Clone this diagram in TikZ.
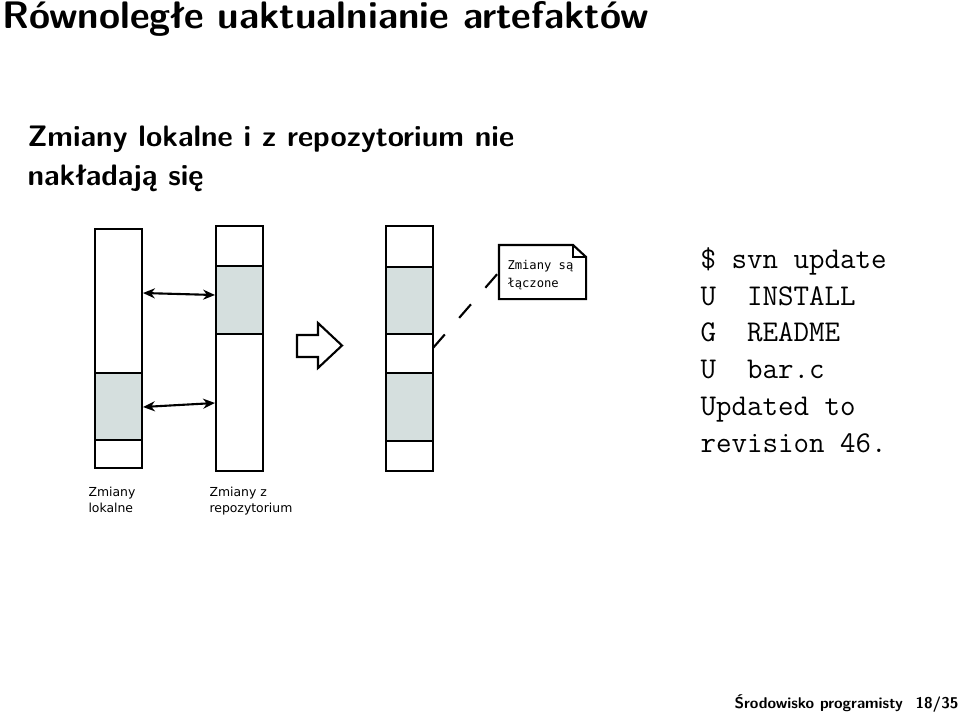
\documentclass[tikz,border=0pt]{standalone}
\usepackage{fontspec}
\usetikzlibrary{arrows.meta, calc}
\newfontfamily\dejavu{DejaVu Sans}
\newfontfamily\dejavumono{DejaVu Sans Mono}
\definecolor{bandgray}{RGB}{213,223,222}
\newcommand{\px}{0.3785pt}

\begin{document}
\begin{tikzpicture}[x=0.3785pt, y=-0.3785pt,
  box/.style = {line width=0.8pt},
  band/.style = {line width=0.8pt, fill=bandgray},
  link/.style = {line width=0.8pt, {Stealth[length=4.5pt,width=3.8pt]}-{Stealth[length=4.5pt,width=3.8pt]}},
  lbl/.style = {anchor=base west, inner sep=0pt, align=left, font=\dejavu\fontsize{4.7}{6}\selectfont},
  head/.style = {anchor=base west, inner sep=0pt, align=left}]
\useasboundingbox (0,0) rectangle (959,713);

% naglowek i podtytul
\node[head, font=\sffamily\bfseries\fontsize{14.5}{17}\selectfont] (title) at (2,28) {Równoległe uaktualnianie artefaktów};
\node[head, font=\sffamily\bfseries\fontsize{11.2}{14.4}\selectfont] (sub) at (27,185) {Zmiany lokalne i z repozytorium nie\\nakładają się};

% kolumna lokalna
\draw[box] (95,229) rectangle (142,468);
\draw[band] (95,373) rectangle (142,440);
% kolumna repozytorium
\draw[box] (216,226) rectangle (263,471);
\draw[band] (216,266) rectangle (263,334);
% kolumna po polaczeniu
\draw[box] (386,226) rectangle (433,471);
\draw[band] (386,267) rectangle (433,334);
\draw[band] (386,373) rectangle (433,441);

\coordinate (a1) at (143,293);
\coordinate (b1) at (215,295);
\coordinate (a2) at (143,407);
\coordinate (b2) at (215,403);
\coordinate (c1) at (433,348);
\draw[link] (a1) -- (b1);
\draw[link] (a2) -- (b2);

% strzalka
\draw[box, line join=miter] (297,335) -- (318,335) -- (318,323) -- (342,345.5) -- (318,368) -- (318,357) -- (297,357) -- cycle;

\node[lbl] (loc) at (88,512) {Zmiany\\lokalne};
\node[lbl] (rep) at (209,512) {Zmiany z\\repozytorium};

% notatka
\node[anchor=north west, inner sep=0pt, minimum width=86*\px, minimum height=53*\px] (note) at (499,245) {};
\draw[box] (note.south west) -- (note.north west) -- ($(note.north east)+(-13,0)$) -- ($(note.north east)+(0,12)$) -- (note.south east) -- cycle;
\draw[line width=0.6pt] ($(note.north east)+(-13,0)$) |- ($(note.north east)+(0,12)$);
\node[anchor=base west, inner sep=0pt, align=left, font=\dejavumono\fontsize{4.6}{6.5}\selectfont] (notetxt) at (507,287) {Zmiany są\\łączone};
\draw[box, dash pattern=on 6.8pt off 8.3pt] (c1) -- (note.west);

% wynik svn
\node[head, font=\ttfamily\fontsize{11.4}{13.9}\selectfont] (svn) at (700,452)
  {\$ svn update\\U\ \ INSTALL\\G\ \ README\\U\ \ bar.c\\Updated to\\revision 46.};

% stopka
\node[head, font=\sffamily\bfseries\fontsize{5.9}{6}\selectfont] (foot) at (734,708) {Środowisko programisty};
\node[head, font=\sffamily\bfseries\fontsize{5.9}{6}\selectfont] (page) at (915,708) {18/35};
\end{tikzpicture}
\end{document}
